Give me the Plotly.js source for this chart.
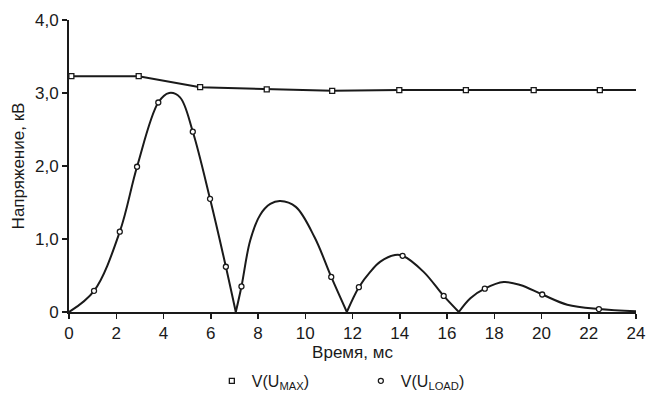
<!DOCTYPE html>
<html>
<head>
<meta charset="utf-8">
<script src="https://cdn.plot.ly/plotly-3.0.1.min.js"></script>
<style>html,body{margin:0;padding:0;background:#fff;}#chart{width:649px;height:401px;}</style>
</head>
<body>
<div id="chart"></div>
<script>
// U_MAX curve and its markers (time in ms, voltage in kV)
const maxLineX = [0, 2.95, 5.55, 8.37, 11.14, 13.98, 16.8, 19.67, 22.47, 24];
const maxLineY = [3.23, 3.23, 3.08, 3.05, 3.03, 3.04, 3.04, 3.04, 3.04, 3.04];
const maxMarkX = [0.1, 2.95, 5.55, 8.37, 11.14, 13.98, 16.8, 19.67, 22.47];
const maxMarkY = [3.23, 3.23, 3.08, 3.05, 3.03, 3.04, 3.04, 3.04, 3.04];

// U_LOAD curve and its markers
const loadX = [0, 1.06, 2.15, 2.88, 3.78, 4.24, 4.7, 5.24, 5.97, 6.64, 7.06,
               7.30, 7.67, 8.09, 8.52, 8.94, 9.6, 10.4, 11.1, 11.76,
               12.27, 12.75, 13.18, 13.8, 14.12, 15.01, 15.86, 16.5,
               16.99, 17.6, 18.4, 19.1, 20.03, 21.09, 22.43, 24];
const loadY = [0, 0.29, 1.10, 1.99, 2.87, 3.00, 2.94, 2.47, 1.55, 0.62, 0,
               0.35, 0.98, 1.33, 1.48, 1.52, 1.44, 1.02, 0.48, 0,
               0.34, 0.55, 0.69, 0.78, 0.77, 0.55, 0.22, 0,
               0.19, 0.32, 0.41, 0.37, 0.24, 0.10, 0.04, 0.01];
const loadMarkX = [1.06, 2.15, 2.88, 3.78, 5.24, 5.97, 6.64, 7.30, 11.1, 12.27, 14.12, 15.86, 17.6, 20.03, 22.43];
const loadMarkY = [0.29, 1.10, 1.99, 2.87, 2.47, 1.55, 0.62, 0.35, 0.48, 0.34, 0.77, 0.22, 0.32, 0.24, 0.04];

const xTicks = [0, 2, 4, 6, 8, 10, 12, 14, 16, 18, 20, 22, 24];
const yTickVals = [0, 1, 2, 3, 4];
const yTickText = ['0', '1,0', '2,0', '3,0', '4,0'];

const ink = '#1a1a1a';
const traces = [];

traces.push({x: maxLineX, y: maxLineY, mode: 'lines', line: {color: ink, width: 2}, showlegend: false, hoverinfo: 'skip'});

// split the load curve into lobes at interior zeros so cusps stay sharp
let segX = [], segY = [];
const lobeLine = {color: ink, width: 2, shape: 'spline', smoothing: 1};
for (let i = 0; i < loadX.length; i++) {
  segX.push(loadX[i]); segY.push(loadY[i]);
  if (loadY[i] === 0 && i > 0 && i < loadX.length - 1) {
    traces.push({x: segX, y: segY, mode: 'lines', line: lobeLine, showlegend: false, hoverinfo: 'skip'});
    segX = [loadX[i]]; segY = [loadY[i]];
  }
}
traces.push({x: segX, y: segY, mode: 'lines', line: lobeLine, showlegend: false, hoverinfo: 'skip'});

const mk = (sym) => ({symbol: sym, size: 5, color: '#fff', line: {color: ink, width: 1.3}});
traces.push({x: maxMarkX, y: maxMarkY, mode: 'markers', name: 'V(U<sub>MAX</sub>)', marker: mk('square'), cliponaxis: false});
traces.push({x: loadMarkX, y: loadMarkY, mode: 'markers', name: 'V(U<sub>LOAD</sub>)', marker: mk('circle'), cliponaxis: false});

const fam = '"Liberation Sans", Arial, sans-serif';
const font = {family: fam, size: 16, color: ink};

const layout = {
  width: 649, height: 401,
  margin: {l: 69, r: 13, t: 20, b: 89, autoexpand: false},
  paper_bgcolor: '#fff', plot_bgcolor: '#fff',
  font: font,
  showlegend: true,
  legend: {orientation: 'h', xref: 'container', yref: 'container', x: 0.556, xanchor: 'center', y: 0.05, yanchor: 'middle',
           font: {family: fam, size: 16, color: ink}, entrywidth: 104, itemwidth: 30},
  xaxis: {
    range: [0, 24], tickvals: xTicks, ticktext: xTicks.map(String), automargin: false,
    showgrid: false, zeroline: false, showline: true, linecolor: ink, linewidth: 2,
    ticks: 'outside', ticklen: 5, tickwidth: 1.5, tickcolor: ink,
    tickfont: {family: fam, size: 17, color: ink},
    title: {text: 'Время, мс', font: {family: fam, size: 17, color: ink}, standoff: 2}
  },
  yaxis: {
    range: [0, 4], tickvals: yTickVals, ticktext: yTickText, automargin: false,
    showgrid: false, zeroline: false, showline: true, linecolor: ink, linewidth: 2,
    ticks: 'outside', ticklen: 5, tickwidth: 1.5, tickcolor: ink,
    tickfont: {family: fam, size: 17, color: ink},
    title: {text: 'Напряжение, кВ', font: {family: fam, size: 17, color: ink}, standoff: 6}
  }
};

Plotly.newPlot('chart', traces, layout, {displayModeBar: false, staticPlot: true});
</script>
</body>
</html>
